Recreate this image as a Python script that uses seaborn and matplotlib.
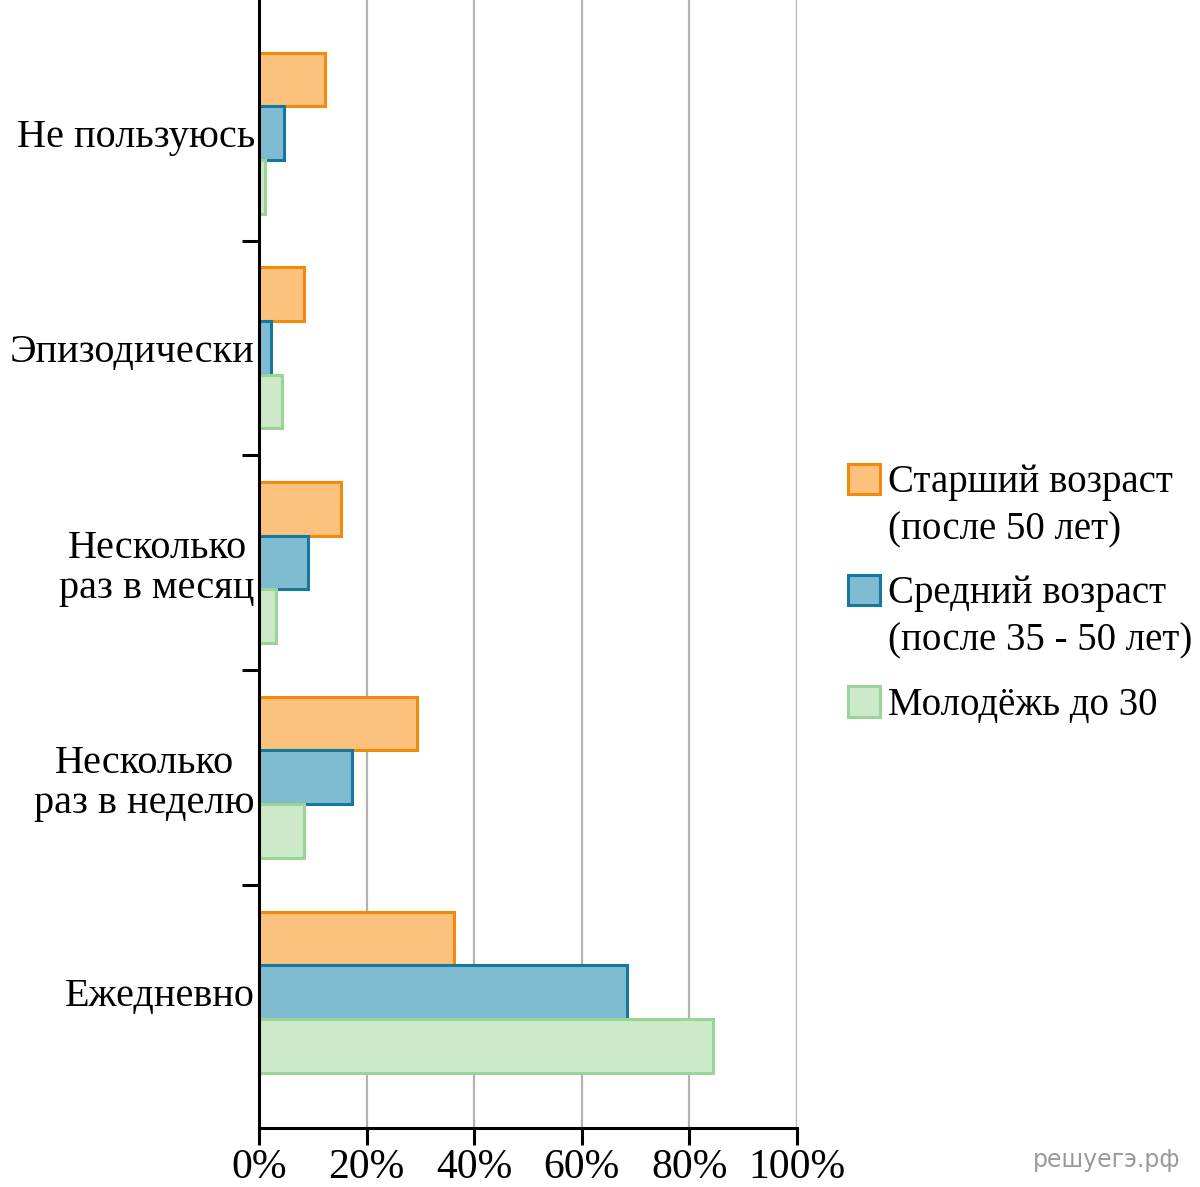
import numpy as np
import pandas as pd
import seaborn as sns
import matplotlib
matplotlib.use('Agg')
import matplotlib.pyplot as plt
from matplotlib.legend_handler import HandlerPatch
from matplotlib.patches import Rectangle

# data (percent)
categories = ['Не пользуюсь', 'Эпизодически', 'Несколько\nраз в месяц',
              'Несколько\nраз в неделю', 'Ежедневно']
groups = ['Старший возраст\n(после 50 лет)', 'Средний возраст\n(после 35 - 50 лет)',
          'Молодёжь до 30']
old_vals = [12.3, 8.4, 15.2, 29.4, 36.2]
mid_vals = [4.6, 2.2, 9.1, 17.3, 68.4]
young_vals = [1.1, 4.3, 3.2, 8.4, 84.4]
x_ticks = [0, 20, 40, 60, 80, 100]

fills = ['#fdc17e', '#7fbcd2', '#cce9ca']
edges = ['#f28a0b', '#15789c', '#99d594']

rows = []
for g, vals in zip(groups, [old_vals, mid_vals, young_vals]):
    for c, v in zip(categories, vals):
        rows.append({'cat': c, 'group': g, 'val': v})
df = pd.DataFrame(rows)

sns.set_theme(style='white')
plt.rcParams['font.family'] = ['Liberation Serif', 'DejaVu Serif']

fig = plt.figure(figsize=(12, 11.87), dpi=100)
ax = fig.add_axes([259 / 1200, 59 / 1187, 538 / 1200, 1128 / 1187])

sns.barplot(data=df, x='val', y='cat', hue='group', orient='h', order=categories,
            hue_order=groups, palette=fills, width=0.75, ax=ax,
            linewidth=2.2, saturation=1, legend=False)

for cont, ec in zip(ax.containers, edges):
    for bar in cont:
        bar.set_edgecolor(ec)
        bar.set_linewidth(2.2)

ax.set_xlim(0, 100)
ax.set_ylim(4.633, -0.62)
ax.set_xticks(x_ticks)
ax.set_xticklabels([f'{t}%' for t in x_ticks])
ax.set_xlabel('')
ax.set_ylabel('')
ax.set_yticks([0.5, 1.5, 2.5, 3.5], minor=True)
ax.tick_params(axis='y', which='major', length=0, pad=3, labelsize=29, colors='black')
ax.tick_params(axis='y', which='minor', length=12, width=2.2, direction='out',
               color='black', left=True)
ax.tick_params(axis='x', which='major', length=12, width=2.2, direction='out',
               color='black', bottom=True, labelsize=30, pad=3, labelcolor='black')
for lbl in ax.get_yticklabels():
    lbl.set_multialignment('center')
    lbl.set_linespacing(1.12)

ax.grid(axis='x', color='#b3b3b3', linewidth=1.6)
ax.grid(axis='y', visible=False)
ax.set_axisbelow(True)
for s in ['top', 'right']:
    ax.spines[s].set_visible(False)
for s in ['left', 'bottom']:
    ax.spines[s].set_color('black')
    ax.spines[s].set_linewidth(2.2)


def box_func(shift):
    def f(legend, orig_handle, xdescent, ydescent, width, height, fontsize):
        return Rectangle((-xdescent, -ydescent + shift * fontsize), width, height)
    return f


handles = [cont.patches[0] for cont in ax.containers]
handler_map = {}
for h, lab in zip(handles, groups):
    shift = 0.72 if '\n' in lab else 0.0
    handler_map[h] = HandlerPatch(patch_func=box_func(shift))

leg = fig.legend(handles, groups, handler_map=handler_map, loc='upper left',
                 bbox_to_anchor=(848 / 1200, 1 - 464 / 1187), frameon=False,
                 fontsize=28, handlelength=0.83, handleheight=0.83, handletextpad=0.2,
                 labelspacing=0.68, borderpad=0, borderaxespad=0)
for t in leg.get_texts():
    t.set_color('black')
    t.set_linespacing(1.38)

fig.text(1180 / 1200, 1 - 1160 / 1187, 'решуегэ.рф', ha='right', va='center',
         fontsize=17, color='#9a9a9a', family=['DejaVu Sans'])

fig.savefig('out.png', dpi=100)
